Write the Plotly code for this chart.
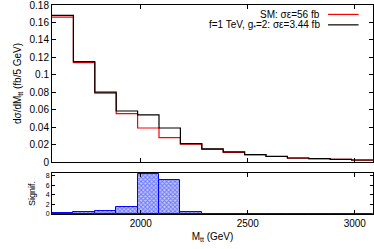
import plotly.graph_objects as go

mtt_edges = [1585, 1685, 1785, 1885, 1985, 2085, 2185, 2285, 2385, 2485,
             2585, 2685, 2785, 2885, 2985, 3085]
sm_vals = [0.166, 0.114, 0.079, 0.0555, 0.039, 0.028, 0.0205, 0.0145, 0.011,
           0.0083, 0.0063, 0.0045, 0.0038, 0.003, 0.0022]
bsm_vals = [0.168, 0.115, 0.080, 0.0585, 0.054, 0.039, 0.021, 0.015, 0.0115,
            0.0085, 0.0065, 0.0046, 0.0039, 0.0031, 0.0023]
signif_vals = [0.28, 0.42, 0.63, 1.47, 8.4, 7.15, 0.35, 0.05, 0.04, 0.04,
               0.03, 0.03, 0.03, 0.03, 0.03]
x_ticks = [2000, 2500, 3000]
y_ticks = [0, 0.02, 0.04, 0.06, 0.08, 0.1, 0.12, 0.14, 0.16, 0.18]
y_tick_labels = ["0", "0.02", "0.04", "0.06", "0.08", "0.1", "0.12", "0.14",
                 "0.16", "0.18"]
signif_ticks = [0, 2, 4, 6, 8]

centers = [(a + b) / 2 for a, b in zip(mtt_edges[:-1], mtt_edges[1:])]
widths = [b - a for a, b in zip(mtt_edges[:-1], mtt_edges[1:])]

font = "Liberation Sans, Arial, sans-serif"
fig = go.Figure()

fig.add_trace(go.Scatter(x=mtt_edges, y=sm_vals + [sm_vals[-1]], mode="lines",
                         line=dict(shape="hv", color="#ff0000", width=1.2),
                         xaxis="x", yaxis="y", showlegend=False))
fig.add_trace(go.Scatter(x=mtt_edges, y=bsm_vals + [bsm_vals[-1]], mode="lines",
                         line=dict(shape="hv", color="#000000", width=1.2),
                         xaxis="x", yaxis="y", showlegend=False))
fig.add_trace(go.Bar(x=centers, y=signif_vals, width=widths,
                     marker=dict(color="white",
                                 line=dict(color="#0000ff", width=1),
                                 pattern=dict(shape="x", fgcolor="#2233ee",
                                              bgcolor="#c8ccff", size=3,
                                              solidity=0.6)),
                     xaxis="x2", yaxis="y2", showlegend=False))

axis_common = dict(showline=True, linecolor="black", linewidth=1, mirror="ticks",
                   ticks="inside", ticklen=4, tickcolor="black", showgrid=False,
                   zeroline=False, automargin=False, ticklabeloverflow="allow",
                   tickfont=dict(family=font, size=10, color="black"))

fig.update_layout(
    width=374, height=249,
    margin=dict(l=52, r=1, t=5, b=35),
    plot_bgcolor="white", paper_bgcolor="white",
    bargap=0,
    xaxis=dict(domain=[0, 1], range=[mtt_edges[0], mtt_edges[-1]], anchor="y",
               tickvals=x_ticks, showticklabels=False, **axis_common),
    yaxis=dict(domain=[0.2488, 1], range=[0, 0.18], tickvals=y_ticks,
               ticktext=y_tick_labels, anchor="x",
               title=dict(text="dσ/dM<sub>tt</sub> (fb/5 GeV)",
                          font=dict(family=font, size=10, color="black"),
                          standoff=6),
               **axis_common),
    xaxis2=dict(domain=[0, 1], range=[mtt_edges[0], mtt_edges[-1]], anchor="y2",
                tickvals=x_ticks,
                title=dict(text="M<sub>tt</sub> (GeV)",
                           font=dict(family=font, size=10, color="black"),
                           standoff=4),
                **axis_common),
    yaxis2=dict(domain=[0, 0.196], range=[0, 8.6], tickvals=signif_ticks,
                anchor="x2",
                title=dict(text="Signif.",
                           font=dict(family=font, size=9, color="black"),
                           standoff=8),
                **{**axis_common, "tickfont": dict(family=font, size=7, color="black"),
                   "ticklen": 3}),
)

# legend (text to the left of the sample line, gnuplot style)
legend_items = [("SM: σε=56 fb", "#ff0000"),
                ("f=1 TeV, g<sub>*</sub>=2: σε=3.44 fb", "#000000")]
for i, (txt, col) in enumerate(legend_items):
    yy = 0.955 - i * 0.05
    fig.add_annotation(xref="paper", yref="paper", x=0.84, y=yy, text=txt,
                       showarrow=False, xanchor="right", yanchor="middle",
                       font=dict(family=font, size=10, color="black"))
    fig.add_shape(type="line", xref="paper", yref="paper",
                  x0=0.86, x1=0.955, y0=yy, y1=yy,
                  line=dict(color=col, width=1.2))

fig.write_html("out.html", config={"displayModeBar": False},
               post_script="document.body.style.margin='0';"
                           "document.body.style.overflow='hidden';")
